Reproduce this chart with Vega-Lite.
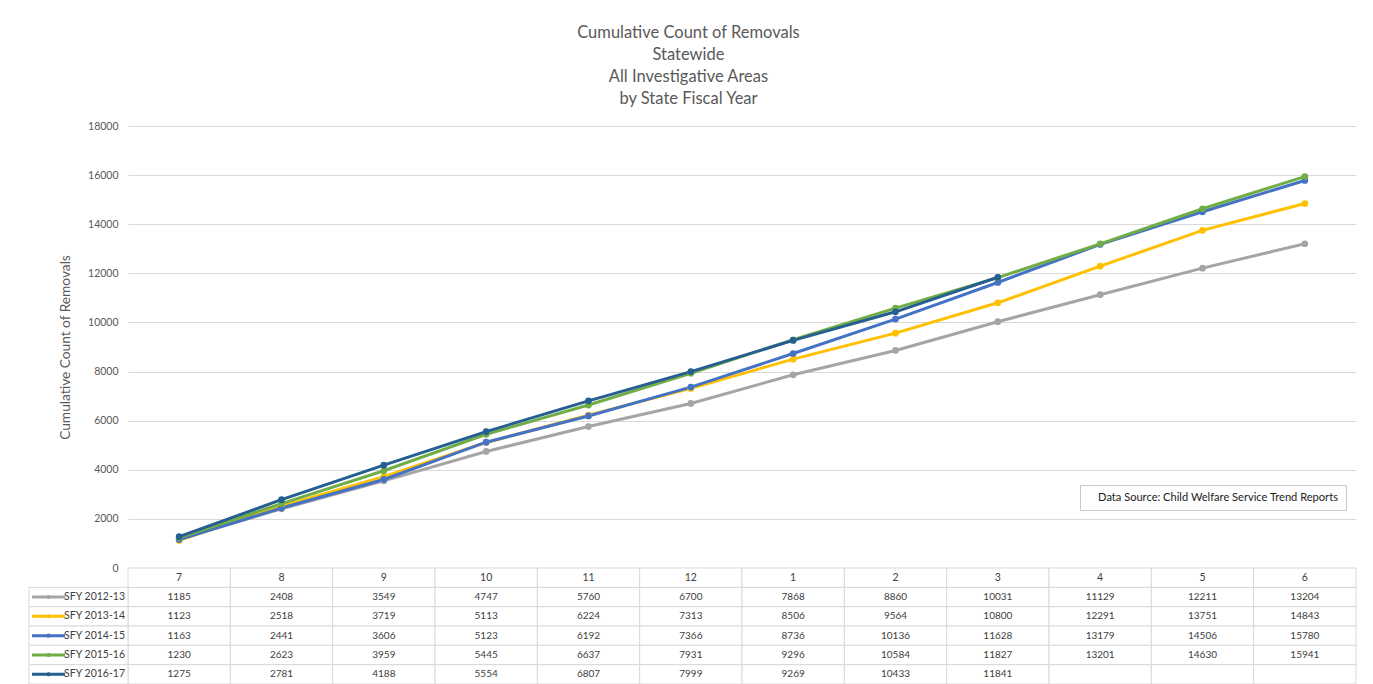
{
  "$schema": "https://vega.github.io/schema/vega-lite/v6.json",
  "autosize": {"type": "pad"},
  "padding": {"left": 28, "top": 24, "right": 4, "bottom": 0},
  "background": "white",
  "bounds": "flush",
  "config": {
    "view": {"stroke": null},
    "font": "Lato",
    "text": {"font": "Lato"}
  },
  "title": {
    "text": ["Cumulative Count of Removals", "Statewide", "All Investigative Areas", "by State Fiscal Year"],
    "anchor": "middle",
    "font": "Lato",
    "fontSize": 16.5,
    "fontWeight": "normal",
    "color": "#595959",
    "lineHeight": 22,
    "offset": 14,
    "dx": -4
  },
  "datasets": {
    "main": [
      {"s": "SFY 2012-13", "m": "7", "v": 1185}, {"s": "SFY 2012-13", "m": "8", "v": 2408}, {"s": "SFY 2012-13", "m": "9", "v": 3549}, {"s": "SFY 2012-13", "m": "10", "v": 4747}, {"s": "SFY 2012-13", "m": "11", "v": 5760}, {"s": "SFY 2012-13", "m": "12", "v": 6700}, {"s": "SFY 2012-13", "m": "1", "v": 7868}, {"s": "SFY 2012-13", "m": "2", "v": 8860}, {"s": "SFY 2012-13", "m": "3", "v": 10031}, {"s": "SFY 2012-13", "m": "4", "v": 11129}, {"s": "SFY 2012-13", "m": "5", "v": 12211}, {"s": "SFY 2012-13", "m": "6", "v": 13204},
      {"s": "SFY 2013-14", "m": "7", "v": 1123}, {"s": "SFY 2013-14", "m": "8", "v": 2518}, {"s": "SFY 2013-14", "m": "9", "v": 3719}, {"s": "SFY 2013-14", "m": "10", "v": 5113}, {"s": "SFY 2013-14", "m": "11", "v": 6224}, {"s": "SFY 2013-14", "m": "12", "v": 7313}, {"s": "SFY 2013-14", "m": "1", "v": 8506}, {"s": "SFY 2013-14", "m": "2", "v": 9564}, {"s": "SFY 2013-14", "m": "3", "v": 10800}, {"s": "SFY 2013-14", "m": "4", "v": 12291}, {"s": "SFY 2013-14", "m": "5", "v": 13751}, {"s": "SFY 2013-14", "m": "6", "v": 14843},
      {"s": "SFY 2014-15", "m": "7", "v": 1163}, {"s": "SFY 2014-15", "m": "8", "v": 2441}, {"s": "SFY 2014-15", "m": "9", "v": 3606}, {"s": "SFY 2014-15", "m": "10", "v": 5123}, {"s": "SFY 2014-15", "m": "11", "v": 6192}, {"s": "SFY 2014-15", "m": "12", "v": 7366}, {"s": "SFY 2014-15", "m": "1", "v": 8736}, {"s": "SFY 2014-15", "m": "2", "v": 10136}, {"s": "SFY 2014-15", "m": "3", "v": 11628}, {"s": "SFY 2014-15", "m": "4", "v": 13179}, {"s": "SFY 2014-15", "m": "5", "v": 14506}, {"s": "SFY 2014-15", "m": "6", "v": 15780},
      {"s": "SFY 2015-16", "m": "7", "v": 1230}, {"s": "SFY 2015-16", "m": "8", "v": 2623}, {"s": "SFY 2015-16", "m": "9", "v": 3959}, {"s": "SFY 2015-16", "m": "10", "v": 5445}, {"s": "SFY 2015-16", "m": "11", "v": 6637}, {"s": "SFY 2015-16", "m": "12", "v": 7931}, {"s": "SFY 2015-16", "m": "1", "v": 9296}, {"s": "SFY 2015-16", "m": "2", "v": 10584}, {"s": "SFY 2015-16", "m": "3", "v": 11827}, {"s": "SFY 2015-16", "m": "4", "v": 13201}, {"s": "SFY 2015-16", "m": "5", "v": 14630}, {"s": "SFY 2015-16", "m": "6", "v": 15941},
      {"s": "SFY 2016-17", "m": "7", "v": 1275}, {"s": "SFY 2016-17", "m": "8", "v": 2781}, {"s": "SFY 2016-17", "m": "9", "v": 4188}, {"s": "SFY 2016-17", "m": "10", "v": 5554}, {"s": "SFY 2016-17", "m": "11", "v": 6807}, {"s": "SFY 2016-17", "m": "12", "v": 7999}, {"s": "SFY 2016-17", "m": "1", "v": 9269}, {"s": "SFY 2016-17", "m": "2", "v": 10433}, {"s": "SFY 2016-17", "m": "3", "v": 11841}, {"s": "SFY 2016-17", "m": "4", "v": null}, {"s": "SFY 2016-17", "m": "5", "v": null}, {"s": "SFY 2016-17", "m": "6", "v": null}
    ],
    "head": [
      {"s": "Month", "m": "7"}, {"s": "Month", "m": "8"}, {"s": "Month", "m": "9"}, {"s": "Month", "m": "10"}, {"s": "Month", "m": "11"}, {"s": "Month", "m": "12"}, {"s": "Month", "m": "1"}, {"s": "Month", "m": "2"}, {"s": "Month", "m": "3"}, {"s": "Month", "m": "4"}, {"s": "Month", "m": "5"}, {"s": "Month", "m": "6"}
    ]
  },
  "spacing": 0,
  "vconcat": [
    {
      "width": 1228,
      "height": 442,
      "data": {"name": "main"},
      "transform": [{"filter": "datum.v != null"}],
      "encoding": {
        "x": {"field": "m", "type": "ordinal", "sort": ["7", "8", "9", "10", "11", "12", "1", "2", "3", "4", "5", "6"], "scale": {"type": "point", "domain": ["7", "8", "9", "10", "11", "12", "1", "2", "3", "4", "5", "6"], "padding": 0.5}, "axis": null},
        "y": {"field": "v", "type": "quantitative", "scale": {"domain": [0, 18000], "nice": false},
          "axis": {"values": [0, 2000, 4000, 6000, 8000, 10000, 12000, 14000, 16000, 18000], "format": "d", "title": "Cumulative Count of Removals", "grid": true, "gridColor": "#d9d9d9", "gridWidth": 1, "domain": false, "ticks": false, "tickSize": 0, "labelPadding": 10, "labelFont": "Lato", "labelFontSize": 10.5, "labelColor": "#595959", "titleFont": "Lato", "titleFontSize": 13.7, "titleFontWeight": "normal", "titleColor": "#595959", "titlePadding": 15}},
        "color": {"field": "s", "type": "nominal", "scale": {"domain": ["SFY 2012-13", "SFY 2013-14", "SFY 2014-15", "SFY 2015-16", "SFY 2016-17"], "range": ["#a5a5a5", "#ffc000", "#4472c4", "#70ad47", "#255e91"]}, "legend": null}
      },
      "layer": [
        {"mark": {"type": "line", "strokeWidth": 3}},
        {"mark": {"type": "point", "filled": true, "size": 45, "opacity": 1}},
        {"mark": {"type": "point", "opacity": 0},
          "encoding": {"shape": {"datum": "Data Source: Child Welfare Service Trend Reports", "type": "nominal",
            "legend": {"orient": "none", "legendX": 952, "legendY": 359, "title": null, "symbolSize": 0, "symbolOpacity": 0, "symbolStrokeWidth": 0, "labelOffset": 0, "labelFont": "Lato", "labelFontSize": 11.1, "labelColor": "#222222", "labelLimit": 500, "padding": 7, "strokeColor": "#c8c8c8", "fillColor": "white"}}}}
      ]
    },
    {
      "width": 1228,
      "height": 116,
      "encoding": {
        "y": {"field": "s", "type": "nominal", "scale": {"domain": ["Month", "SFY 2012-13", "SFY 2013-14", "SFY 2014-15", "SFY 2015-16", "SFY 2016-17"], "paddingInner": 0, "paddingOuter": 0}, "axis": null}
      },
      "resolve": {"scale": {"x": "independent"}},
      "layer": [
        {
          "encoding": {
            "x": {"field": "m", "type": "ordinal", "sort": ["7", "8", "9", "10", "11", "12", "1", "2", "3", "4", "5", "6"], "scale": {"domain": ["7", "8", "9", "10", "11", "12", "1", "2", "3", "4", "5", "6"], "paddingInner": 0, "paddingOuter": 0}, "axis": null}
          },
          "layer": [
            {"data": {"name": "main"}, "mark": {"type": "rect", "fill": "white", "stroke": "#d9d9d9", "strokeWidth": 1}},
            {"data": {"name": "head"}, "mark": {"type": "rect", "fill": "white", "stroke": "#d9d9d9", "strokeWidth": 1}},
            {"data": {"name": "main"}, "transform": [{"filter": "datum.v != null"}], "mark": {"type": "text", "font": "Lato", "fontSize": 10, "color": "#404040"}, "encoding": {"text": {"field": "v", "type": "quantitative", "format": "d"}}},
            {"data": {"name": "head"}, "mark": {"type": "text", "font": "Lato", "fontSize": 10.5, "color": "#404040"}, "encoding": {"text": {"field": "m"}}}
          ]
        },
        {
          "data": {"name": "main"},
          "transform": [{"filter": "datum.m == '7'"}],
          "encoding": {
            "x": {"field": "m", "type": "ordinal", "scale": {"domain": ["7"], "range": [-99, 0], "paddingInner": 0, "paddingOuter": 0}, "axis": null}
          },
          "layer": [
            {"mark": {"type": "rect", "fill": "white", "stroke": "#d9d9d9", "strokeWidth": 1}},
            {"mark": {"type": "tick", "orient": "horizontal", "size": 33, "thickness": 3, "xOffset": -30, "opacity": 1}, "encoding": {"color": {"field": "s", "type": "nominal", "legend": null}}},
            {"mark": {"type": "point", "filled": true, "size": 18, "xOffset": -30, "opacity": 1}, "encoding": {"color": {"field": "s", "type": "nominal", "legend": null}}},
            {"mark": {"type": "text", "align": "right", "dx": 46.5, "font": "Lato", "fontSize": 10.5, "color": "#404040"}, "encoding": {"text": {"field": "s"}}}
          ]
        }
      ]
    }
  ]
}
